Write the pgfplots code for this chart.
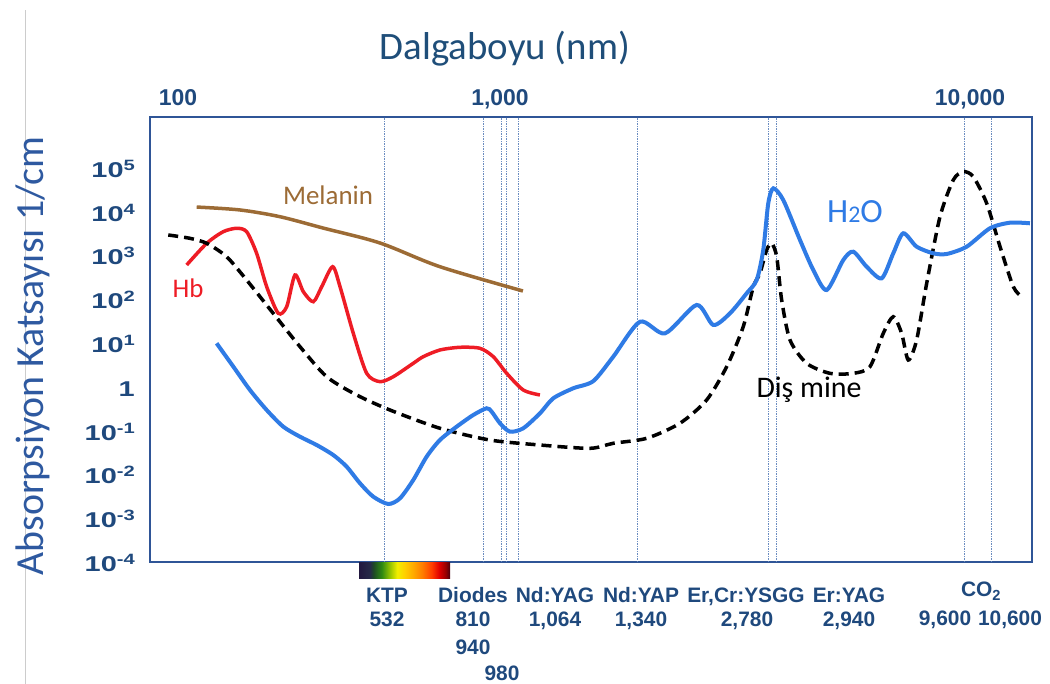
\documentclass[border=0pt]{standalone}
\usepackage{fontspec}
\setmainfont{Carlito}
\newfontfamily\arialfont{Liberation Sans}
\usepackage{graphicx}
\usepackage{pgfplots}
\pgfplotsset{compat=1.18}

\definecolor{axisblue}{RGB}{47,85,151}
\definecolor{tickblue}{RGB}{31,73,125}
\definecolor{titleblue}{RGB}{31,78,121}
\definecolor{ylabblue}{RGB}{46,89,160}
\definecolor{h2oblue}{HTML}{2F7BE5}
\definecolor{hbred}{HTML}{EE1C25}
\definecolor{melbrown}{HTML}{9C6B35}
\definecolor{laserline}{HTML}{6A8CC0}
\definecolor{sp0}{HTML}{22183F}
\definecolor{sp1}{HTML}{262A48}
\definecolor{sp2}{HTML}{1E4A25}
\definecolor{sp3}{HTML}{2F8A12}
\definecolor{sp4}{HTML}{96C400}
\definecolor{sp5}{HTML}{F2EE00}
\definecolor{sp6}{HTML}{FFD000}
\definecolor{sp7}{HTML}{FFA800}
\definecolor{sp8}{HTML}{FF7A00}
\definecolor{sp9}{HTML}{FF3C00}
\definecolor{sp10}{HTML}{E00000}
\definecolor{sp11}{HTML}{9A0000}
\definecolor{sp12}{HTML}{4A0010}
\pgfdeclarehorizontalshading{spectrum}{100bp}{color(0bp)=(sp0); color(25bp)=(sp0); color(31bp)=(sp1); color(33bp)=(sp2); color(37.5bp)=(sp3); color(42bp)=(sp4); color(46bp)=(sp5); color(50bp)=(sp6); color(55bp)=(sp7); color(60bp)=(sp8); color(65bp)=(sp9); color(69bp)=(sp10); color(72.5bp)=(sp11); color(75bp)=(sp12); color(100bp)=(sp12)}

\newcommand\sups[1]{\raisebox{7bp}{\fontsize{15}{15}\selectfont #1}}
\newcommand\yl[1]{\scalebox{1.35}[1]{#1}}
\newcommand\lab{\arialfont\bfseries\fontsize{21}{21}\selectfont}

\begin{document}
\begin{tikzpicture}
\useasboundingbox (0bp,0bp) rectangle (1050bp,684bp);
\draw[color=black!20, line width=0.8bp] (25bp,0bp) -- (25bp,674bp);
\begin{axis}[
  at={(150bp,122bp)}, anchor=south west,
  width=882bp, height=445bp, scale only axis,
  xmode=log, ymode=log,
  xmin=85, xmax=14344, ymin=1e-4, ymax=1.445e6,
  axis line style={draw=axisblue, line width=2.6bp},
  tick style={draw=none}, major tick length=0pt,
  xticklabel pos=upper,
  xtick={100,650.5,10000},
  xticklabels={100,{1,000},{10,000}},
  xticklabel style={anchor=base, yshift=11bp, inner sep=0pt, text=tickblue, font=\arialfont\bfseries\fontsize{23}{23}\selectfont},
  ytick={1e-4,1e-3,1e-2,1e-1,1,10,100,1000,10000,100000},
  yticklabels={\yl{10\sups{-4}},\yl{10\sups{-3}},\yl{10\sups{-2}},\yl{10\sups{-1}},\yl{1},\yl{10\sups{1}},\yl{10\sups{2}},\yl{10\sups{3}},\yl{10\sups{4}},\yl{10\sups{5}}},
  yticklabel style={anchor=base east, xshift=-15bp, yshift=-9.5bp, inner sep=0pt, text=tickblue, font=\arialfont\bfseries\fontsize{21.5}{21.5}\selectfont},
]
% laser wavelength lines
\pgfplotsforeachungrouped \lx in {333.2,589.2,654.4,673.6,722.1,1443,3107,3237,9656,11298}{
  \edef\tmp{\noexpand\addplot[color=laserline, line width=0.9bp, dash pattern=on 1.5bp off 1bp, forget plot] coordinates {(\lx,1e-4) (\lx,1.445e6)};}
  \tmp
}
% Melanin
\addplot[color=melbrown, line width=3.5bp, smooth] coordinates {
(111.5,12700) (143.4,10900) (180.9,7650) (232.4,4220) (323.7,1920) (458.7,552) (743.3,154)};
% Hb
\addplot[color=hbred, line width=3.5bp, smooth, tension=0.45] coordinates {
(105.2,604) (118.2,1888) (130.1,3475) (140.7,4160) (149.1,3475) (158.0,1117) (167.5,193) (179.2,47.6) (188.2,67.4) (197.5,357) (207.3,148) (219.7,87.7) (230.7,193) (245.8,552) (256.6,193) (277.2,16.6) (299.6,2.03) (323.7,1.31) (349.7,1.70) (392.9,3.44) (416.3,4.87) (458.7,6.92) (515.4,7.98) (578.9,7.57) (625.6,4.87) (676.3,2.03) (744.7,0.845) (820.5,0.650)};
% Dis mine (enamel)
\addplot[color=black, line width=3.5bp, dash pattern=on 10bp off 6bp, smooth, tension=0.45] coordinates {
(94.5,2924) (107.2,2455) (118.2,1888) (132.7,934) (149.1,274) (174.0,47.6) (203.3,8.24) (237.4,1.70) (282.7,0.650) (343.1,0.295) (458.7,0.113) (613.7,0.0609) (820.5,0.0469) (1097.5,0.0394) (1256.6,0.0513) (1526,0.0667) (1852,0.147) (2163,0.500) (2430,2.88) (2676,23.6) (2837,193) (2949,390) (3066,1328) (3157,1888) (3251,934) (3346,95.9) (3512,11.7) (3869,3.44) (4431,2.03) (5074,2.03) (5591,2.88) (6040,16.6) (6402,39.8) (6722,16.6) (6985,4.09) (7334,11.7) (7776,231) (8401,7650) (9075,52600) (9618,81500) (10193,62700) (11020,15460) (11910,1581) (12865,193) (13510,114)};
% H2O
\addplot[color=h2oblue, line width=4bp, smooth, tension=0.45] coordinates {
(125.2,9.84) (138.0,2.88) (152.0,0.845) (167.5,0.295) (184.5,0.1228) (203.3,0.0726) (224.0,0.0469) (246.7,0.0277) (266.7,0.0150) (288.2,0.00627) (311.3,0.00310) (339.7,0.00211) (363.6,0.00284) (392.9,0.00745) (424.6,0.0254) (458.7,0.061) (505.5,0.1228) (556.8,0.227) (601.9,0.323) (619.8,0.270) (650.5,0.147) (689.3,0.0944) (744.7,0.113) (820.5,0.248) (886.6,0.546) (995.8,0.925) (1119,1.35) (1256.6,4.87) (1468,30.6) (1698,16.6) (2041,73.8) (2248,25.8) (2477,47.6) (2729,136) (2893,274) (3006,1328) (3095,15460) (3187,34000) (3377,18400) (3722,2248) (4021,464) (4346,162) (4787,785) (5074,1214) (5484,552) (5984,300) (6402,1117) (6785,3198) (7334,1581) (8078,1117) (8734,1077) (9810,1581) (11230,4160) (12620,5580) (14170,5410)};
\end{axis}
% titles
\node[anchor=base, text=titleblue, font=\fontsize{39}{39}\selectfont] at (505bp,624bp) {Dalgaboyu (nm)};
\node[anchor=base, rotate=90, text=ylabblue, font=\fontsize{40}{40}\selectfont] at (43bp,328bp) {Absorpsiyon Katsayısı 1/cm};
% curve labels
\node[anchor=base, text=melbrown, font=\fontsize{27}{27}\selectfont] at (328bp,479bp) {Melanin};
\node[anchor=base, text=hbred, font=\fontsize{27}{27}\selectfont] at (188bp,386bp) {Hb};
\node[anchor=base, text=h2oblue, font=\fontsize{34}{34}\selectfont] at (855bp,461bp) {H{\fontsize{24}{24}\selectfont 2}O};
\node[anchor=base, text=black, font=\fontsize{30}{30}\selectfont] at (809bp,286bp) {Diş mine};
% spectrum bar
\shade[shading=spectrum] (359bp,105bp) rectangle (450bp,121bp);
% laser labels
\begin{scope}[every node/.style={anchor=base, inner sep=0pt, text=tickblue, font=\lab}]
\node at (387bp,81bp) {KTP};
\node at (387bp,57bp) {532};
\node at (473bp,81bp) {Diodes};
\node at (473bp,57bp) {810};
\node at (473bp,30bp) {940};
\node at (502bp,4bp) {980};
\node at (555bp,81bp) {Nd:YAG};
\node at (555bp,57bp) {1,064};
\node at (641bp,81bp) {Nd:YAP};
\node at (641bp,57bp) {1,340};
\node at (746bp,81bp) {Er,Cr:YSGG};
\node at (747bp,57bp) {2,780};
\node at (849bp,81bp) {Er:YAG};
\node at (849bp,57bp) {2,940};
\node at (981bp,87bp) {CO\textsubscript{2}};
\node at (945bp,58bp) {9,600};
\node at (1010bp,58bp) {10,600};
\end{scope}
\end{tikzpicture}
\end{document}
